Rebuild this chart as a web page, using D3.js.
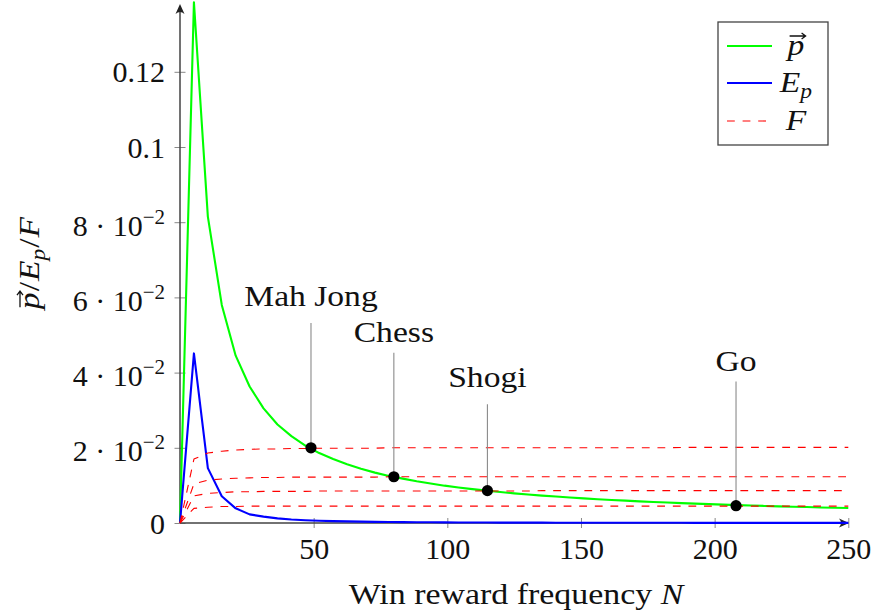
<!DOCTYPE html>
<html>
<head>
<meta charset="utf-8">
<script src="https://cdn.jsdelivr.net/npm/d3@7"></script>
<style>
  body { margin: 0; background: #fff; }
  svg text { font-family: 'Liberation Serif', 'DejaVu Serif', serif; fill: #111; }
</style>
</head>
<body>
<svg id="chart" width="874" height="613" style="font-family:'Liberation Serif','DejaVu Serif',serif"></svg>
<script>
// Sampled win-reward frequencies N (49 samples over 0..250)
const winN = [0, 5.21, 10.42, 15.63, 20.83, 26.04, 31.25, 36.46, 41.67, 46.88,
  52.08, 57.29, 62.5, 67.71, 72.92, 78.13, 83.33, 88.54, 93.75, 98.96,
  104.17, 109.38, 114.58, 119.79, 125, 130.21, 135.42, 140.63, 145.83, 151.04,
  156.25, 161.46, 166.67, 171.88, 177.08, 182.29, 187.5, 192.71, 197.92, 203.13,
  208.33, 213.54, 218.75, 223.96, 229.17, 234.38, 239.58, 244.79, 250];

// p-vector curve
const pVec = [0, 0.1385, 0.0815, 0.0580, 0.0445, 0.0363, 0.0305, 0.0262, 0.0231, 0.0206,
  0.0186, 0.0170, 0.0156, 0.0144, 0.0134, 0.0125, 0.0118, 0.0111, 0.0105, 0.00993,
  0.00945, 0.00900, 0.00860, 0.00823, 0.00789, 0.00758, 0.00729, 0.00703, 0.00678, 0.00655,
  0.00633, 0.00613, 0.00594, 0.00576, 0.00559, 0.00544, 0.00529, 0.00514, 0.00501, 0.00488,
  0.00476, 0.00465, 0.00454, 0.00443, 0.00433, 0.00424, 0.00414, 0.00406, 0.00397];

// E_p curve
const expP = [0, 0.0451, 0.0146, 0.0071, 0.0039, 0.0023, 0.0017, 0.00124, 0.00095, 0.00075,
  0.00061, 0.00050, 0.00042, 0.00036, 0.00031, 0.00027, 0.00024, 0.00021, 0.00019, 0.00017,
  0.00015, 0.00014, 0.00013, 0.00011, 0.00011, 0.00010, 0.00009, 0.00008, 0.00008, 0.00007,
  0.00007, 0.00006, 0.00006, 0.00006, 0.00005, 0.00005, 0.00005, 0.00004, 0.00004, 0.00004,
  0.00004, 0.00004, 0.00003, 0.00003, 0.00003, 0.00003, 0.00003, 0.00003, 0.00003];

// F curves, one per game
const fMahJong = [0, 0.0170, 0.0186, 0.0191, 0.0194, 0.0196, 0.0197, 0.0197, 0.0198, 0.0198,
  0.0199, 0.0199, 0.0199, 0.0199, 0.0199, 0.0200, 0.0200, 0.0200, 0.0200, 0.0200,
  0.0200, 0.0200, 0.0200, 0.0200, 0.0200, 0.0200, 0.0200, 0.0200, 0.0200, 0.0200,
  0.0200, 0.0200, 0.0200, 0.0200, 0.0200, 0.0200, 0.0201, 0.0201, 0.0201, 0.0201,
  0.0201, 0.0201, 0.0201, 0.0201, 0.0201, 0.0201, 0.0201, 0.0201, 0.0201];
const fChess = [0, 0.0104, 0.0114, 0.0117, 0.0119, 0.0120, 0.0121, 0.0121, 0.0122, 0.0122,
  0.0122, 0.0122, 0.0122, 0.0122, 0.0122, 0.0123, 0.0123, 0.0123, 0.0123, 0.0123,
  0.0123, 0.0123, 0.0123, 0.0123, 0.0123, 0.0123, 0.0123, 0.0123, 0.0123, 0.0123,
  0.0123, 0.0123, 0.0123, 0.0123, 0.0123, 0.0123, 0.0123, 0.0123, 0.0123, 0.0123,
  0.0123, 0.0123, 0.0123, 0.0123, 0.0123, 0.0123, 0.0123, 0.0123, 0.0123];
const fShogi = [0, 0.0072, 0.0079, 0.0081, 0.0083, 0.0083, 0.0084, 0.0084, 0.0084, 0.0084,
  0.0085, 0.0085, 0.0085, 0.0085, 0.0085, 0.0085, 0.0085, 0.0085, 0.0085, 0.0085,
  0.0085, 0.0085, 0.0085, 0.0085, 0.0085, 0.0085, 0.0086, 0.0086, 0.0086, 0.0086,
  0.0086, 0.0086, 0.0086, 0.0086, 0.0086, 0.0086, 0.0086, 0.0086, 0.0086, 0.0086,
  0.0086, 0.0086, 0.0086, 0.0086, 0.0086, 0.0086, 0.0086, 0.0086, 0.0086];
const fGo = [0, 0.0039, 0.0042, 0.0044, 0.0044, 0.0045, 0.0045, 0.0045, 0.0045, 0.0045,
  0.0045, 0.0045, 0.0045, 0.0045, 0.0045, 0.0045, 0.0045, 0.0045, 0.0045, 0.0045,
  0.0045, 0.0045, 0.0045, 0.0045, 0.0045, 0.0045, 0.0045, 0.0045, 0.0045, 0.0045,
  0.0045, 0.0045, 0.0045, 0.0045, 0.0045, 0.0045, 0.0045, 0.0045, 0.0045, 0.0045,
  0.0045, 0.0045, 0.0045, 0.0045, 0.0045, 0.0045, 0.0045, 0.0045, 0.0045];

// Marked games
const games = ["Mah Jong", "Chess", "Shogi", "Go"];
const gameN = [49, 80, 115, 208];
const gameP = [0.0200, 0.0123, 0.0086, 0.0046];
const gameLabelAt = [0.0532, 0.0453, 0.0316, 0.0376];

// Ticks
const xTicks = [50, 100, 150, 200, 250];
const yTicks = [0, 0.02, 0.04, 0.06, 0.08, 0.1, 0.12];
const yTickLabels = ["0", "2 · 10^−2", "4 · 10^−2", "6 · 10^−2", "8 · 10^−2", "0.1", "0.12"];

const FONT = "'Liberation Serif', 'DejaVu Serif', serif";
const SIZE = 30;
const STRETCH = 1.12;   // widen serif text toward Computer Modern proportions

const svg = d3.select("#chart");
const x = d3.scaleLinear().domain([0, 250]).range([180, 848.3]);
const y = d3.scaleLinear().domain([0, 0.14]).range([523, 523 - 0.14 * 3760]);

function stretch(sel, k = STRETCH) {
  sel.each(function () {
    const w = this.getComputedTextLength();
    d3.select(this).attr("textLength", w * k).attr("lengthAdjust", "spacingAndGlyphs");
  });
  return sel;
}

// Lays out a short math expression piece by piece; returns the group.
function mathText(parent, pieces, cx, baseline) {
  const g = parent.append("g");
  let cur = 0;
  pieces.forEach(p => {
    const fs = p.sub ? SIZE * 0.7 : SIZE;
    const t = g.append("text")
      .attr("x", cur)
      .attr("y", p.sub ? 6 : 0)
      .attr("font-family", FONT)
      .attr("font-size", fs)
      .attr("font-style", p.it ? "italic" : "normal")
      .text(p.t);
    const w = t.node().getComputedTextLength();
    if (p.vec) {
      const a0 = cur + 2, a1 = cur + w + 3, ay = -19;
      g.append("path")
        .attr("d", `M${a0},${ay}H${a1}M${a1 - 4},${ay - 3}L${a1},${ay}L${a1 - 4},${ay + 3}`)
        .attr("fill", "none").attr("stroke", "#111").attr("stroke-width", 1.3);
    }
    cur += w * STRETCH + (p.gap || 0);
    t.attr("textLength", w * STRETCH).attr("lengthAdjust", "spacingAndGlyphs");
  });
  g.attr("transform", `translate(${cx - cur / 2},${baseline})`);
  return g;
}

// ---- axes ----
const axisColor = "#444";
const gx = svg.append("g").attr("transform", `translate(0,${y(0)})`)
  .call(d3.axisBottom(x).tickValues(xTicks).tickSize(0).tickFormat(d3.format("d")));
gx.attr("font-family", FONT).attr("font-size", SIZE);
gx.select(".domain").remove();
gx.selectAll(".tick line").attr("y1", -5).attr("y2", 5).attr("stroke", "#888").attr("stroke-width", 1);
gx.selectAll(".tick text").attr("y", 36).attr("dy", null).attr("fill", "#111").attr("font-family", FONT);

const gy = svg.append("g").attr("transform", `translate(${x(0)},0)`)
  .call(d3.axisLeft(y).tickValues(yTicks).tickSize(0).tickFormat((d, i) => yTickLabels[i]));
gy.attr("font-family", FONT).attr("font-size", SIZE);
gy.select(".domain").remove();
gy.selectAll(".tick line").attr("x1", -5.5).attr("x2", 5.5).attr("stroke", "#888").attr("stroke-width", 1);
gy.selectAll(".tick text").each(function (d, i) {
  const parts = yTickLabels[i].split("^");
  const t = d3.select(this);
  t.text(parts[0]).attr("x", -15).attr("dy", null).attr("y", parts[1] ? 13 : 10)
    .attr("fill", "#111").attr("font-family", FONT);
  if (parts[1]) t.append("tspan").attr("font-size", 21).attr("dy", -12).text(parts[1]);
});

// axis lines with arrow heads
const x0 = x(0), yb = y(0), xr = 849, yt = 4;
svg.append("path").attr("d", `M${x0},${yb}H${xr - 2}M${x0},${yb}V${yt + 2}`)
  .attr("stroke", axisColor).attr("stroke-width", 1.5).attr("fill", "none");
svg.append("path")
  .attr("d", `M${xr},${yb}L${xr - 10},${yb - 4.5}Q${xr - 6},${yb} ${xr - 10},${yb + 4.5}Z`)
  .attr("fill", "#222");
svg.append("path")
  .attr("d", `M${x0},${yt}L${x0 - 4.5},${yt + 10}Q${x0},${yt + 6} ${x0 + 4.5},${yt + 10}Z`)
  .attr("fill", "#222");

// ---- curves ----
const line = d3.line().x((d, i) => x(winN[i])).y(d => y(d));
const plot = svg.append("g").attr("fill", "none").attr("stroke-linejoin", "round");
plot.append("path").datum(pVec).attr("d", line).attr("stroke", "#00ff00").attr("stroke-width", 2.1);
plot.append("path").datum(expP).attr("d", line).attr("stroke", "#0000ff").attr("stroke-width", 2.1);
[fMahJong, fChess, fShogi, fGo].forEach(s => {
  plot.append("path").datum(s).attr("d", line)
    .attr("stroke", "#ff0000").attr("stroke-width", 1.1).attr("stroke-dasharray", "7.8,7.8");
});

// ---- game annotations ----
const ann = svg.append("g");
games.forEach((name, i) => {
  const gxp = x(gameN[i]);
  ann.append("line")
    .attr("x1", gxp).attr("x2", gxp)
    .attr("y1", y(gameLabelAt[i])).attr("y2", y(gameP[i]))
    .attr("stroke", "#8a8a8a").attr("stroke-width", 1.1);
  const depth = /[gjpqy]/.test(name) ? 6 : 0;
  stretch(ann.append("text")
    .attr("x", gxp).attr("y", y(gameLabelAt[i]) - 11 - depth)
    .attr("text-anchor", "middle").attr("font-family", FONT).attr("font-size", SIZE)
    .text(name));
  ann.append("circle").attr("cx", gxp).attr("cy", y(gameP[i])).attr("r", 5.6).attr("fill", "#000");
});

// ---- axis titles ----
const xTitle = svg.append("text")
  .attr("x", 516).attr("y", 604).attr("text-anchor", "middle")
  .attr("font-family", FONT).attr("font-size", SIZE)
  .text("Win reward frequency ");
xTitle.append("tspan").attr("font-style", "italic").text("N");
stretch(xTitle, 1.13);

const ylab = svg.append("g").attr("transform", "translate(39,263) rotate(-90)");
mathText(ylab, [
  { t: "p", it: true, vec: true, gap: 1 },
  { t: "/", gap: 1 },
  { t: "E", it: true },
  { t: "p", it: true, sub: true, gap: 1 },
  { t: "/", gap: 1 },
  { t: "F", it: true }
], 0, 0);

// ---- legend ----
const leg = svg.append("g");
leg.append("rect").attr("x", 718).attr("y", 22).attr("width", 110).attr("height", 123)
  .attr("fill", "#fff").attr("stroke", "#444").attr("stroke-width", 1.3);
const legendRows = [
  { y: 46, color: "#00ff00", w: 2.1, dash: null, x2: 772, pieces: [{ t: "p", it: true, vec: true }] },
  { y: 83, color: "#0000ff", w: 2.1, dash: null, x2: 772, pieces: [{ t: "E", it: true }, { t: "p", it: true, sub: true }] },
  { y: 121, color: "#ff0000", w: 1.1, dash: "7.8,7.8", x2: 768, pieces: [{ t: "F", it: true }] }
];
legendRows.forEach(r => {
  leg.append("line").attr("x1", 727).attr("x2", r.x2).attr("y1", r.y).attr("y2", r.y)
    .attr("stroke", r.color).attr("stroke-width", r.w).attr("stroke-dasharray", r.dash);
  mathText(leg, r.pieces, 796, r.y + 9);
});
</script>
</body>
</html>
